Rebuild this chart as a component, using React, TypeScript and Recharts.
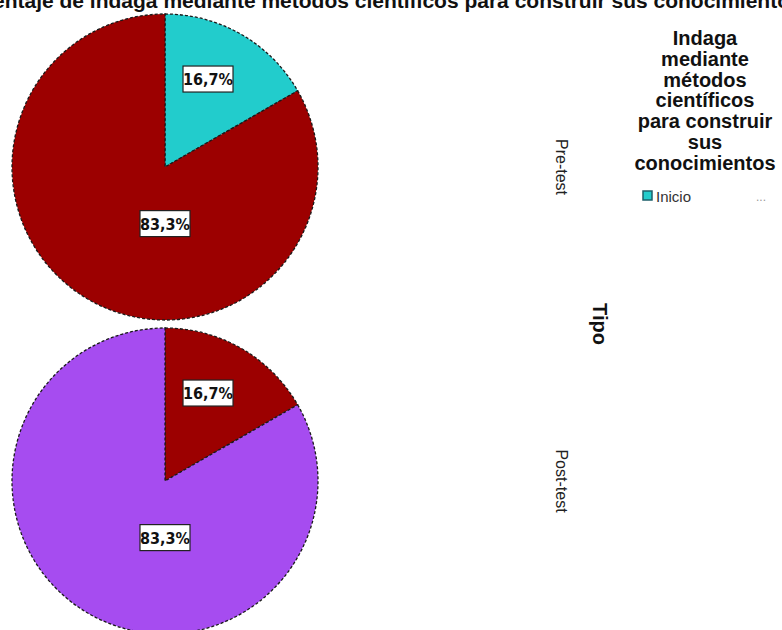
import React from 'react';
import { PieChart, Pie, Cell } from 'recharts';

const categories = ['Inicio', 'Proceso', 'Logro'];
const preTest = [16.7, 83.3, 0];
const postTest = [0, 16.7, 83.3];
const groups = ['Pre-test', 'Post-test'];
const colors = ['#22cccc', '#9c0000', '#a64cf0'];

const title = 'Porcentaje de indaga mediante métodos científicos para construir sus conocimientos';
const legendTitle = ['Indaga', 'mediante', 'métodos', 'científicos', 'para construir', 'sus', 'conocimientos'];

const W = 782;
const H = 630;
const R = 153;
const CX = 165;
const CY = [167, 481];

const toRows = (values: number[]) =>
  categories
    .map((name, i) => ({ name, value: values[i], color: colors[i] }))
    .filter((d) => d.value > 0);

const fmt = (v: number) => `${v.toFixed(1).replace('.', ',')}%`;

const BoxLabel = (props: any) => {
  const { cx, cy, midAngle, outerRadius, percent, value } = props;
  const RAD = Math.PI / 180;
  // SPSS drops the big slice's label straight below the centre
  const big = percent > 0.5;
  const ang = big ? -90 : midAngle + 4;
  const dist = big ? 0.37 * outerRadius : 0.64 * outerRadius;
  const x = cx + dist * Math.cos(ang * RAD);
  const y = cy - dist * Math.sin(ang * RAD);
  return (
    <g>
      <rect x={x - 25} y={y - 13} width={50} height={26} fill="#fff" stroke="#222" strokeWidth={1.2} />
      <text
        x={x}
        y={y + 6}
        textAnchor="middle"
        fontFamily="'Liberation Sans Narrow', 'DejaVu Sans Condensed', sans-serif"
        fontWeight="bold"
        fontSize={16}
        fill="#111"
      >
        {fmt(value)}
      </text>
    </g>
  );
};

export default function App() {
  const series = [preTest, postTest];
  return (
    <div style={{ position: 'absolute', left: 0, top: 0, width: W, height: H, overflow: 'hidden', background: '#fff' }}>
      <PieChart width={W} height={H} margin={{ top: 0, right: 0, bottom: 0, left: 0 }}>
        {series.map((vals, gi) => (
          <Pie
            key={groups[gi]}
            data={toRows(vals)}
            dataKey="value"
            nameKey="name"
            cx={CX}
            cy={CY[gi]}
            outerRadius={R}
            startAngle={90}
            endAngle={-270}
            stroke="#1a1a1a"
            strokeWidth={1.3}
            strokeDasharray="3 2"
            label={BoxLabel}
            labelLine={false}
            isAnimationActive={false}
          >
            {toRows(vals).map((d) => (
              <Cell key={d.name} fill={d.color} />
            ))}
          </Pie>
        ))}
      </PieChart>

      <svg width={W} height={H} style={{ position: 'absolute', left: 0, top: 0, pointerEvents: 'none' }}>
        <text x={374} y={8} textAnchor="middle" fontFamily="'Liberation Sans', Arial, sans-serif" fontWeight="bold" fontSize={21} fill="#111">
          {title}
        </text>

        {legendTitle.map((line, i) => (
          <text
            key={line}
            x={705}
            y={45 + i * 20.8}
            textAnchor="middle"
            fontFamily="'Liberation Sans', Arial, sans-serif"
            fontWeight="bold"
            fontSize={20}
            fill="#111"
          >
            {line}
          </text>
        ))}

        <rect x={643} y={191} width={9} height={9} fill={colors[0]} stroke="#1d5f6a" strokeWidth={1.5} />
        <text x={656} y={202} fontFamily="'Liberation Sans', Arial, sans-serif" fontSize={15} fill="#333">
          {categories[0]}
        </text>
        <text x={761} y={201} textAnchor="middle" fontFamily="'Liberation Sans', Arial, sans-serif" fontSize={12} fill="#999">
          ...
        </text>

        {groups.map((g, gi) => (
          <text
            key={g}
            transform={`translate(556, ${CY[gi]}) rotate(90)`}
            textAnchor="middle"
            fontFamily="'Liberation Sans', Arial, sans-serif"
            fontSize={16}
            fill="#222"
          >
            {g}
          </text>
        ))}
        <text
          transform="translate(593, 324) rotate(90)"
          textAnchor="middle"
          fontFamily="'Liberation Sans', Arial, sans-serif"
          fontWeight="bold"
          fontSize={20}
          fill="#111"
        >
          Tipo
        </text>
      </svg>
    </div>
  );
}
